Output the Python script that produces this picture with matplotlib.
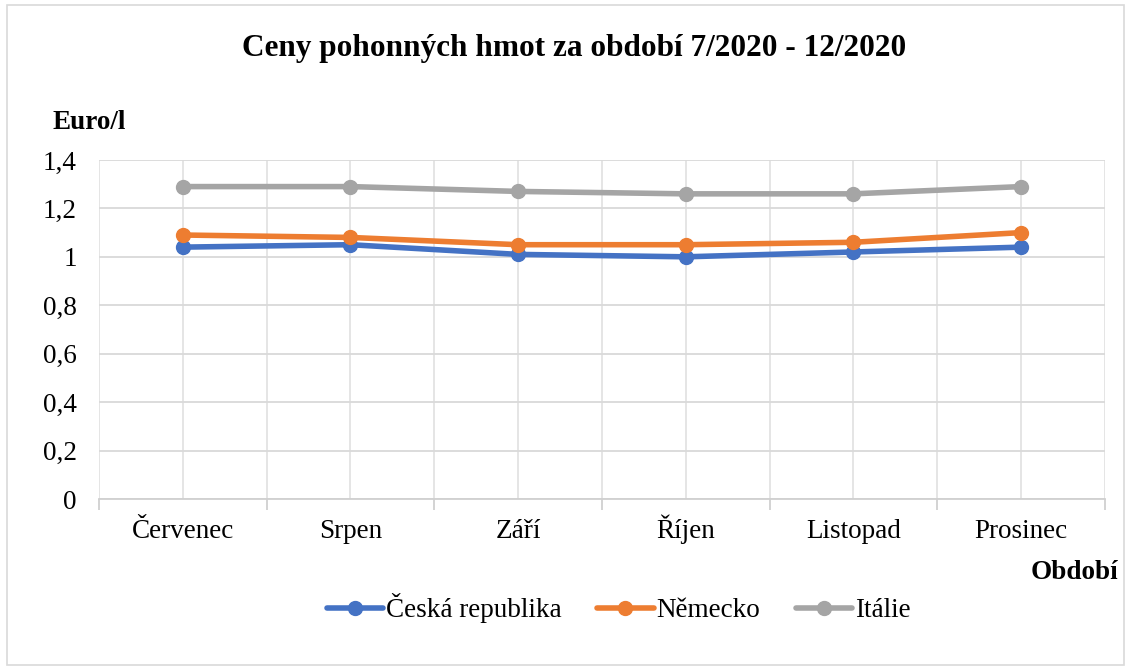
import numpy as np
import matplotlib.pyplot as plt

plt.rcParams['font.family'] = ['Liberation Serif', 'DejaVu Serif']

months = ["Červenec", "Srpen", "Září", "Říjen", "Listopad", "Prosinec"]
cz = [1.04, 1.05, 1.01, 1.00, 1.02, 1.04]
de = [1.09, 1.08, 1.05, 1.05, 1.06, 1.10]
it = [1.29, 1.29, 1.27, 1.26, 1.26, 1.29]

series = [("Česká republika", cz, "#4472C4"),
          ("Německo", de, "#ED7D31"),
          ("Itálie", it, "#A5A5A5")]

fig = plt.figure(figsize=(11.31, 6.72), dpi=100)
ax = fig.add_axes([0.0875, 0.2574, 0.8895, 0.5046])

x = np.arange(len(months))
for name, vals, col in series:
    ax.plot(x, vals, color=col, lw=4, marker="o", ms=10, label=name,
            solid_capstyle="round")

ax.set_xlim(-0.5, len(months) - 0.5)
ax.set_ylim(0, 1.4)
ax.set_yticks(np.arange(0, 1.41, 0.2))
ax.set_yticklabels(["0", "0,2", "0,4", "0,6", "0,8", "1", "1,2", "1,4"], fontsize=19.5)
ax.set_xticks(x)
ax.set_xticklabels(months, fontsize=19.5)
for lab in ax.get_xticklabels():
    lab.set_verticalalignment("baseline")
ax.set_xticks(np.arange(-0.5, len(months)), minor=True)

ax.grid(axis="y", color="#D9D9D9", lw=1.3)
ax.grid(axis="x", which="both", color="#E3E3E3", lw=1.3)
ax.set_axisbelow(True)
for s in ["top", "right", "left"]:
    ax.spines[s].set_visible(False)
ax.spines["bottom"].set_color("#D0D0D0")
ax.spines["bottom"].set_linewidth(1.3)
ax.tick_params(axis="y", length=0, pad=16)
ax.tick_params(axis="x", which="major", length=0, pad=28)
ax.tick_params(axis="x", which="minor", length=8, color="#D0D0D0", width=1.3)

fig.text(0.508, 0.928, "Ceny pohonných hmot za období 7/2020 - 12/2020",
         ha="center", va="center", fontsize=22.5, fontweight="bold")
fig.text(0.079, 0.817, "Euro/l", ha="center", va="center", fontsize=19.5, fontweight="bold")
fig.text(0.989, 0.148, "Období", ha="right", va="center", fontsize=19.5, fontweight="bold")

leg = ax.legend(loc="center", bbox_to_anchor=(0.547, 0.095), bbox_transform=fig.transFigure,
                ncol=3, frameon=False, fontsize=19.5, handlelength=2.1,
                handletextpad=0.1, columnspacing=1.3)

fig.patches.append(plt.Rectangle((0.006, 0.01), 0.988, 0.982, transform=fig.transFigure,
                                 fill=False, edgecolor="#D9D9D9", lw=1.2))

fig.savefig("out.png", dpi=100)
